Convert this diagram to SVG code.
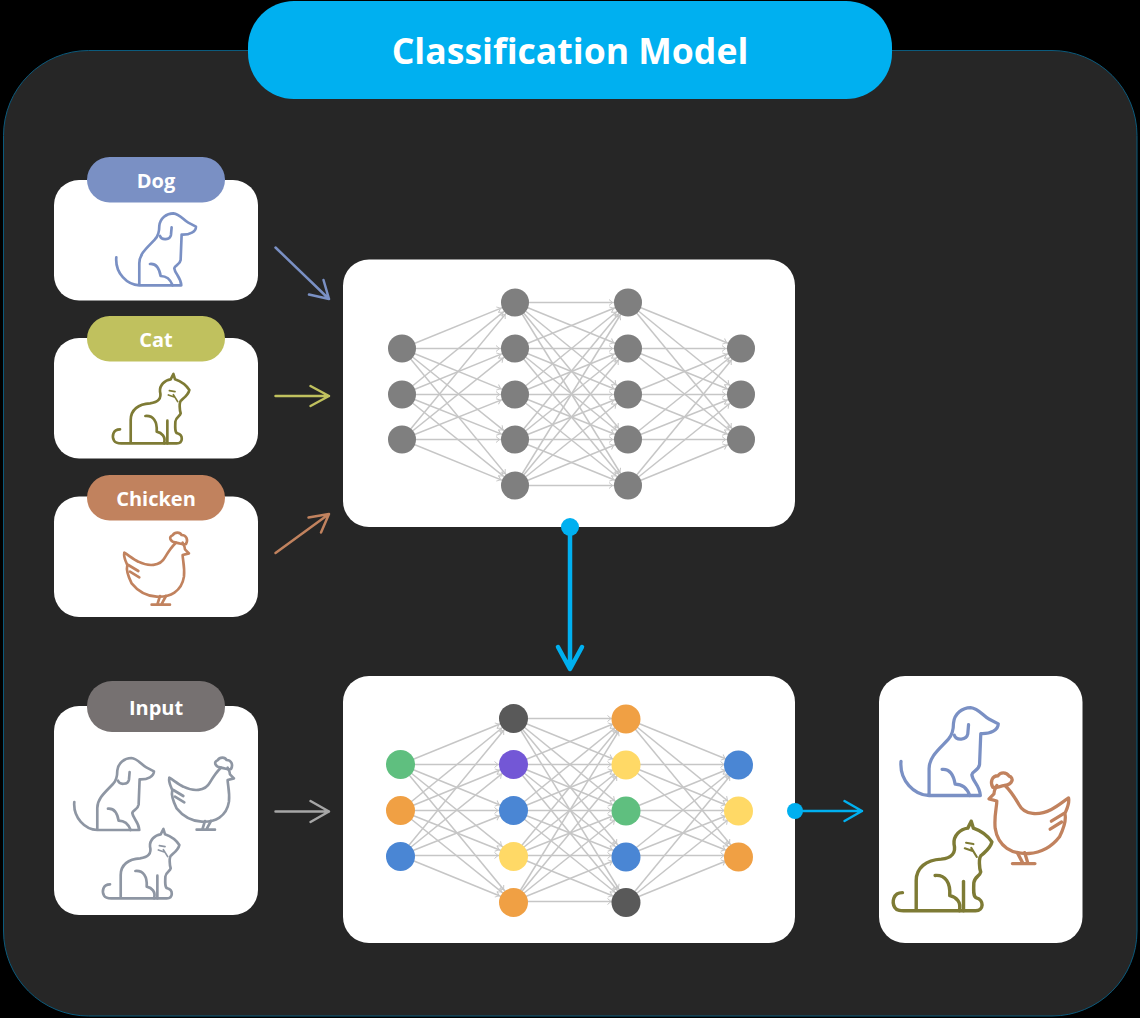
<svg xmlns="http://www.w3.org/2000/svg" xmlns:xlink="http://www.w3.org/1999/xlink" width="1140" height="1018" viewBox="0 0 1140 1018">
<style>
.card{fill:#fff}
.pill-text{font-family:"Open Sans","Noto Sans","Liberation Sans",sans-serif;font-weight:700;font-size:20px;fill:#fff;text-anchor:middle}
.ico{fill:none;stroke:currentColor;stroke-width:8;stroke-linecap:round;stroke-linejoin:round}
.arr{fill:none;stroke-width:2.5;stroke-linecap:round;stroke-linejoin:round}
.edges line{stroke:#c6c6c6;stroke-width:1.5;marker-end:url(#tip)}
.gray{fill:#7f7f7f}
</style>
<defs>
<marker id="tip" markerUnits="userSpaceOnUse" viewBox="0 0 24 10" refX="20.5" refY="5" markerWidth="24" markerHeight="10" orient="auto"><path d="M1.5,2 L5,5 L1.5,8" fill="none" stroke="#c6c6c6" stroke-width="1"/></marker>
<g id="dog" class="ico">
<path d="M0,-84 C-4,-36 33,-1 69,0 L195,0 C193,-26 176,-34 174,-51 C176,-61 191,-61 193,-76 L196,-152 C221,-151 239,-161 239,-176 L216,-188 C201,-196 191,-214 171,-216 C151,-216 131,-201 129,-178 C129,-161 126,-148 116,-138 C96,-116 69,-96 69,-66 L69,0"/>
<path d="M166,-174 L164,-151 C161,-136 136,-134 131,-148"/>
<path d="M101,-64 C121,-66 129,-51 133,-28 C151,-28 163,-16 169,0"/>
</g>
<g id="cat" class="ico">
<path d="M25,-42 C3,-42 0,-20 7,-8 C13,2 25,0 35,0 L195,0 C215,0 215,-25 197,-30 C190,-32 190,-45 191,-65 C193,-80 205,-80 207,-90 C205,-95 200,-125 210,-130 C215,-135 230,-145 233,-160 C225,-172 210,-185 190,-192 L185,-208 L177,-192 C160,-190 143,-175 145,-155 C150,-135 140,-122 115,-120 C80,-118 57,-100 57,-70 L57,0"/>
<path d="M101,-82 C125,-84 137,-65 135,-35 C150,-32 163,-20 157,0"/>
<path d="M167,-68 L167,0"/>
<path d="M173,-158 L190,-155 M170,-145 L190,-138 M185,-146 L198,-125" style="stroke-width:5"/>
</g>
<g id="chicken" class="ico">
<path d="M158,-187 C140,-190 135,-205 148,-209 C155,-220 170,-219 175,-210 C190,-210 195,-195 188,-183 C182,-180 178,-183 158,-187"/>
<path d="M158,-187 C145,-175 135,-160 125,-143 C110,-115 75,-115 45,-130 C30,-137 15,-150 3,-157 C0,-143 8,-130 12,-120 C8,-105 15,-85 25,-65 C45,-40 70,-27 100,-25 C140,-23 175,-40 182,-85 C185,-115 178,-135 178,-150 L197,-155 L185,-167 C185,-175 182,-180 178,-187"/>
<path d="M15,-120 L45,-102 M20,-100 L48,-83"/>
<path d="M110,-27 L102,-1 M128,-27 L114,-1 M85,-1 L140,-1"/>
</g>
<g id="edges" class="edges">
<line x1="0" y1="46" x2="113" y2="0"/><line x1="0" y1="46" x2="113" y2="46"/><line x1="0" y1="46" x2="113" y2="92"/><line x1="0" y1="46" x2="113" y2="137"/><line x1="0" y1="46" x2="113" y2="183"/>
<line x1="0" y1="92" x2="113" y2="0"/><line x1="0" y1="92" x2="113" y2="46"/><line x1="0" y1="92" x2="113" y2="92"/><line x1="0" y1="92" x2="113" y2="137"/><line x1="0" y1="92" x2="113" y2="183"/>
<line x1="0" y1="137" x2="113" y2="0"/><line x1="0" y1="137" x2="113" y2="46"/><line x1="0" y1="137" x2="113" y2="92"/><line x1="0" y1="137" x2="113" y2="137"/><line x1="0" y1="137" x2="113" y2="183"/>
<line x1="113" y1="0" x2="226" y2="0"/><line x1="113" y1="0" x2="226" y2="46"/><line x1="113" y1="0" x2="226" y2="92"/><line x1="113" y1="0" x2="226" y2="137"/><line x1="113" y1="0" x2="226" y2="183"/>
<line x1="113" y1="46" x2="226" y2="0"/><line x1="113" y1="46" x2="226" y2="46"/><line x1="113" y1="46" x2="226" y2="92"/><line x1="113" y1="46" x2="226" y2="137"/><line x1="113" y1="46" x2="226" y2="183"/>
<line x1="113" y1="92" x2="226" y2="0"/><line x1="113" y1="92" x2="226" y2="46"/><line x1="113" y1="92" x2="226" y2="92"/><line x1="113" y1="92" x2="226" y2="137"/><line x1="113" y1="92" x2="226" y2="183"/>
<line x1="113" y1="137" x2="226" y2="0"/><line x1="113" y1="137" x2="226" y2="46"/><line x1="113" y1="137" x2="226" y2="92"/><line x1="113" y1="137" x2="226" y2="137"/><line x1="113" y1="137" x2="226" y2="183"/>
<line x1="113" y1="183" x2="226" y2="0"/><line x1="113" y1="183" x2="226" y2="46"/><line x1="113" y1="183" x2="226" y2="92"/><line x1="113" y1="183" x2="226" y2="137"/><line x1="113" y1="183" x2="226" y2="183"/>
<line x1="226" y1="0" x2="339" y2="46"/><line x1="226" y1="0" x2="339" y2="92"/><line x1="226" y1="0" x2="339" y2="137"/>
<line x1="226" y1="46" x2="339" y2="46"/><line x1="226" y1="46" x2="339" y2="92"/><line x1="226" y1="46" x2="339" y2="137"/>
<line x1="226" y1="92" x2="339" y2="46"/><line x1="226" y1="92" x2="339" y2="92"/><line x1="226" y1="92" x2="339" y2="137"/>
<line x1="226" y1="137" x2="339" y2="46"/><line x1="226" y1="137" x2="339" y2="92"/><line x1="226" y1="137" x2="339" y2="137"/>
<line x1="226" y1="183" x2="339" y2="46"/><line x1="226" y1="183" x2="339" y2="92"/><line x1="226" y1="183" x2="339" y2="137"/>
</g>
</defs>
<rect width="1140" height="1018" fill="#000"/>
<rect id="frame" x="3.5" y="50.5" width="1133.5" height="965.5" rx="85" fill="#262626" stroke="#0b5a7c" stroke-width="1"/>
<g id="title">
<rect x="248" y="1" width="644" height="98" rx="46" fill="#00b0f0"/>
<text x="570" y="64" font-family="'Open Sans','Noto Sans','Liberation Sans',sans-serif" font-weight="700" font-size="35.600" fill="#fff" text-anchor="middle">Classification Model</text>
</g>
<g id="node-dog">
<rect class="card" x="54" y="180" width="204" height="120.500" rx="25"/>
<rect x="87" y="157" width="138" height="45.500" rx="22.700" fill="#7a90c4"/>
<text class="pill-text" x="156" y="188">Dog</text>
<use xlink:href="#dog" href="#dog" transform="translate(116.300,285.300) scale(.3333)" style="color:#7a90c4"/>
</g>
<g id="node-cat">
<rect class="card" x="54" y="338" width="204" height="120.500" rx="25"/>
<rect x="87" y="316" width="138" height="45.500" rx="22.700" fill="#c0c15e"/>
<text class="pill-text" x="156" y="347">Cat</text>
<use xlink:href="#cat" href="#cat" transform="translate(111.700,443.300) scale(.3333)" style="color:#7e7b35"/>
</g>
<g id="node-chicken">
<rect class="card" x="54" y="496.500" width="204" height="120.500" rx="25"/>
<rect x="87" y="475" width="138" height="45.500" rx="22.700" fill="#c1825e"/>
<text class="pill-text" x="156" y="506">Chicken</text>
<use xlink:href="#chicken" href="#chicken" transform="translate(123.300,605) scale(.3333)" style="color:#c1825e"/>
</g>
<g id="node-input">
<rect class="card" x="54" y="706" width="204" height="209" rx="25"/>
<rect x="87" y="681" width="138" height="51" rx="25" fill="#767171"/>
<text class="pill-text" x="156" y="715">Input</text>
<g style="color:#8e96a3">
<use xlink:href="#dog" href="#dog" transform="translate(74.300,830) scale(.3333)"/>
<use xlink:href="#chicken" href="#chicken" transform="translate(168.300,830) scale(.3333)"/>
<use xlink:href="#cat" href="#cat" transform="translate(101.700,898.300) scale(.3333)"/>
</g>
</g>
<g id="node-training-net">
<rect class="card" x="343" y="259.500" width="452" height="267.500" rx="26"/>
</g>
<g id="node-inference-net">
<rect class="card" x="343" y="676" width="452" height="267" rx="26"/>
</g>
<g id="node-output">
<rect class="card" x="879" y="676" width="203.500" height="267" rx="26"/>
<use xlink:href="#dog" href="#dog" transform="translate(901,795.500) scale(.407)" style="color:#7a90c4"/>
<use xlink:href="#cat" href="#cat" transform="translate(891.700,910.700) scale(.43)" style="color:#7e7b35"/>
<use xlink:href="#chicken" href="#chicken" transform="translate(1069.800,864) scale(-.41,.42)" style="color:#c1825e"/>
</g>
<g id="connectors">
<use xlink:href="#edges" href="#edges" transform="translate(402,302.500)"/>
<use xlink:href="#edges" href="#edges" transform="translate(400.500,718.500)"/>
<path class="arr" stroke="#7a90c4" d="M275.500,247.500 L329,299 M309,294.500 L329,299 L323.500,280"/>
<path class="arr" stroke="#c0c15e" d="M275.500,396 L329,396 M310.500,386 L329,396 L310.500,406"/>
<path class="arr" stroke="#c1825e" d="M275.500,553 L329,514 M308.500,517.500 L329,514 L321,532.500"/>
<path class="arr" stroke="#a6a6a6" d="M275.500,811.500 L329,811.500 M310.500,801 L329,811.500 L310.500,822"/>
<path class="arr" stroke="#00b0f0" style="stroke-width:4.500" d="M570,527 L570,668 M558,647 L570,669 L582,647"/>
<circle cx="570" cy="527" r="9" fill="#00b0f0"/>
<path class="arr" stroke="#00b0f0" d="M795,811 L862,811 M844.500,801 L862,811 L844.500,821"/>
<circle cx="795" cy="811" r="8" fill="#00b0f0"/>
</g>
<g id="training-neurons" class="gray">
<circle cx="402" cy="348.500" r="14"/><circle cx="402" cy="394.500" r="14"/><circle cx="402" cy="439.500" r="14"/>
<circle cx="515" cy="302.500" r="14"/><circle cx="515" cy="348.500" r="14"/><circle cx="515" cy="394.500" r="14"/><circle cx="515" cy="439.500" r="14"/><circle cx="515" cy="485.500" r="14"/>
<circle cx="628" cy="302.500" r="14"/><circle cx="628" cy="348.500" r="14"/><circle cx="628" cy="394.500" r="14"/><circle cx="628" cy="439.500" r="14"/><circle cx="628" cy="485.500" r="14"/>
<circle cx="741" cy="348.500" r="14"/><circle cx="741" cy="394.500" r="14"/><circle cx="741" cy="439.500" r="14"/>
</g>
<g id="inference-neurons">
<circle cx="400.500" cy="764.500" r="14.500" fill="#5fbf7f"/><circle cx="400.500" cy="810.500" r="14.500" fill="#f0a044"/><circle cx="400.500" cy="856.500" r="14.500" fill="#4a86d4"/>
<circle cx="513.500" cy="718.500" r="14.500" fill="#595959"/><circle cx="513.500" cy="764.500" r="14.500" fill="#7357d6"/><circle cx="513.500" cy="810.500" r="14.500" fill="#4a86d4"/><circle cx="513.500" cy="856.500" r="14.500" fill="#ffd966"/><circle cx="513.500" cy="902.500" r="14.500" fill="#f0a044"/>
<circle cx="626" cy="719" r="14.500" fill="#f0a044"/><circle cx="626" cy="765" r="14.500" fill="#ffd966"/><circle cx="626" cy="811" r="14.500" fill="#5fbf7f"/><circle cx="626" cy="857" r="14.500" fill="#4a86d4"/><circle cx="626" cy="902.500" r="14.500" fill="#595959"/>
<circle cx="738.500" cy="765" r="14.500" fill="#4a86d4"/><circle cx="738.500" cy="811" r="14.500" fill="#ffd966"/><circle cx="738.500" cy="857" r="14.500" fill="#f0a044"/>
</g>
</svg>
